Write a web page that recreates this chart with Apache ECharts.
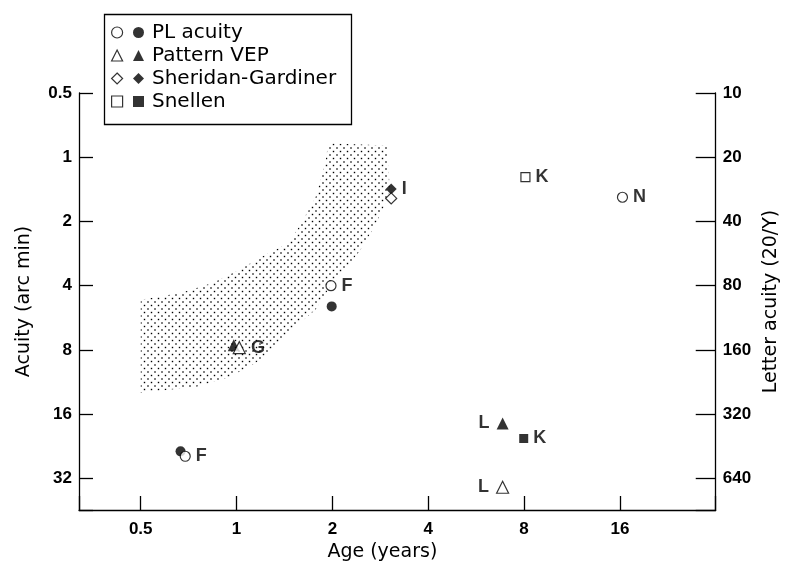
<!DOCTYPE html>
<html><head><meta charset="utf-8">
<script src="https://cdn.jsdelivr.net/npm/echarts@6/dist/echarts.min.js"></script>
<style>html,body{margin:0;padding:0;background:#fff}#c{width:789px;height:567px}</style>
</head><body><div id="c"></div>
<script>
// ---- tick labels ----
const xTicks = [0.5, 1, 2, 4, 8, 16];
const yTicks = [0.5, 1, 2, 4, 8, 16, 32];
const letterTicks = [10, 20, 40, 80, 160, 320, 640];

// ---- series values (age in years, acuity in arc min) ----
const plOpenAge = [0.69, 1.98, 16.3];
const plOpenAcuity = [25.2, 4.0, 1.54];
const plOpenLabels = ['F', 'F', 'N'];
const plFilledAge = [0.667, 1.99];
const plFilledAcuity = [23.9, 5.0];
const plFilledLabels = ['', ''];

const vepOpenAge = [1.02, 6.85];
const vepOpenAcuity = [7.8, 35.2];
const vepOpenLabels = ['G', 'L'];
const vepFilledAge = [0.98, 6.85];
const vepFilledAcuity = [7.6, 17.7];
const vepFilledLabels = ['', 'L'];

const sgOpenAge = [3.06];
const sgOpenAcuity = [1.56];
const sgOpenLabels = [''];
const sgFilledAge = [3.06];
const sgFilledAcuity = [1.41];
const sgFilledLabels = ['I'];

const snOpenAge = [8.08];
const snOpenAcuity = [1.24];
const snOpenLabels = ['K'];
const snFilledAge = [7.98];
const snFilledAcuity = [20.8];
const snFilledLabels = ['K'];

// ---- normative band outline ----
const bandAge = [0.5, 0.67, 0.84, 1.02, 1.2, 1.46, 1.6, 1.77, 1.9, 1.94, 2.97, 3.03, 2.9, 2.71, 2.45, 2.19, 1.94, 1.77, 1.53, 1.33, 1.15, 0.95, 0.75, 0.5];
const bandAcuity = [4.66, 4.32, 3.88, 3.37, 2.93, 2.52, 2.03, 1.54, 1.07, 0.86, 0.88, 1.43, 1.71, 2.12, 2.72, 3.37, 4.18, 5.19, 6.23, 7.73, 9.19, 10.7, 11.9, 12.7];

const FONT = '"Liberation Sans", Arial, Helvetica, sans-serif';
const WIDE = '"DejaVu Sans", "Liberation Sans", Arial, sans-serif';

// stipple pattern
const pc = document.createElement('canvas');
pc.width = 7; pc.height = 7;
const g = pc.getContext('2d');
g.fillStyle = '#000';
g.fillRect(0.3, 0.3, 1.4, 1.4);
g.fillRect(3.8, 3.8, 1.4, 1.4);
const stipple = { image: pc, repeat: 'repeat' };

function near(v, list) {
  for (const t of list) if (Math.abs(Math.log2(v) - Math.log2(t)) < 0.02) return t;
  return null;
}

function pts(ages, acus, labels) {
  return ages.map((a, i) => {
    const lab = labels ? labels[i] : '';
    return {
      value: [a, acus[i]],
      label: { show: !!lab, formatter: lab, position: lab === 'L' ? 'left' : 'right', distance: lab === 'L' ? 7 : 5 }
    };
  });
}

const labelStyle = { fontSize: 18, fontWeight: 'bold', color: '#000', fontFamily: FONT };

function scatter(name, symbol, size, open, data, z) {
  return {
    type: 'scatter', name: name, symbol: symbol, symbolSize: size, z: z,
    itemStyle: open ? { color: '#fff', borderColor: '#000', borderWidth: 1.2 } : { color: '#000', borderWidth: 0 },
    label: Object.assign({ show: true }, labelStyle),
    emphasis: { disabled: true },
    data: data
  };
}

const openNames = ['PL acuity (open)', 'Pattern VEP (open)', 'Sheridan-Gardiner (open)', 'Snellen (open)'];
const filledNames = ['PL acuity', 'Pattern VEP', 'Sheridan-Gardiner', 'Snellen'];

const chart = echarts.init(document.getElementById('c'), null, { renderer: 'canvas' });
chart.setOption({
  animation: false,
  backgroundColor: '#fff',
  textStyle: { fontFamily: FONT },
  grid: { left: 79, right: 67, top: 93, bottom: 57 },
  xAxis: {
    type: 'log', logBase: 2, min: 0.32, max: 32,
    name: 'Age (years)', nameLocation: 'middle', nameGap: 33,
    nameTextStyle: { fontSize: 19, color: '#000', fontFamily: WIDE, padding: [0, 30, 0, 0] },
    axisLine: { lineStyle: { color: '#000', width: 1.3 } },
    axisTick: { inside: true, length: 14, lineStyle: { color: '#000', width: 1.3 } },
    axisLabel: {
      margin: 11, fontSize: 17, fontWeight: 'bold', color: '#000', fontFamily: FONT,
      showMinLabel: true, showMaxLabel: true,
      formatter: v => { const t = near(v, xTicks); return t === null ? '' : String(t); }
    },
    splitLine: { show: false }
  },
  yAxis: [{
    type: 'log', logBase: 2, min: 0.5, max: 45, inverse: true,
    name: 'Acuity (arc min)', nameLocation: 'middle', nameGap: 45, nameRotate: 90,
    nameTextStyle: { fontSize: 19, color: '#000', fontFamily: WIDE },
    axisLine: { lineStyle: { color: '#000', width: 1.3 } },
    axisTick: { inside: true, length: 14, lineStyle: { color: '#000', width: 1.3 } },
    axisLabel: {
      margin: 7, fontSize: 17, fontWeight: 'bold', color: '#000', fontFamily: FONT,
      showMinLabel: true,
      formatter: v => { const t = near(v, yTicks); return t === null ? '' : String(t); }
    },
    splitLine: { show: false }
  }, {
    type: 'log', logBase: 2, min: 0.5, max: 45, inverse: true, position: 'right',
    name: 'Letter acuity (20/Y)', nameLocation: 'middle', nameGap: 45, nameRotate: 90,
    nameTextStyle: { fontSize: 19, color: '#000', fontFamily: WIDE },
    axisLine: { show: true, lineStyle: { color: '#000', width: 1.3 } },
    axisTick: { inside: true, length: 20, lineStyle: { color: '#000', width: 1.3 } },
    axisLabel: {
      margin: 7, fontSize: 17, fontWeight: 'bold', color: '#000', fontFamily: FONT,
      showMinLabel: true,
      formatter: v => { const t = near(v * 20, letterTicks); return t === null ? '' : String(t); }
    },
    splitLine: { show: false }
  }],
  legend: [{
    data: openNames, orient: 'vertical', left: 111, top: 21, padding: 0,
    itemWidth: 11, itemHeight: 11, itemGap: 0, selectedMode: false,
    formatter: () => '\u200b',
    textStyle: { fontSize: 20, lineHeight: 23, color: '#000', fontFamily: WIDE },
    itemStyle: { borderWidth: 1.2, borderColor: '#000', color: '#fff' }
  }, {
    data: filledNames, orient: 'vertical', left: 133, top: 21, padding: 0,
    itemWidth: 11, itemHeight: 11, itemGap: 0, selectedMode: false,
    textStyle: { fontSize: 20, lineHeight: 23, color: '#000', fontFamily: WIDE, padding: [0, 0, 0, 3] },
    itemStyle: { borderWidth: 0 }
  }],
  graphic: [{
    type: 'rect', left: 102, top: 12, z: 100,
    shape: { width: 247, height: 110 },
    style: { fill: 'none', stroke: '#000', lineWidth: 1.3 }
  }],
  series: [
    {
      type: 'custom', name: 'band', z: 1, silent: true,
      data: bandAge.map((a, i) => [a, bandAcuity[i]]),
      encode: { x: 0, y: 1 },
      renderItem: function (params, api) {
        if (params.dataIndex !== 0) return null;
        const points = bandAge.map((a, i) => api.coord([a, bandAcuity[i]]));
        return { type: 'polygon', shape: { points: points }, style: { fill: stipple, stroke: null } };
      }
    },
    scatter('PL acuity', 'circle', 10, false, pts(plFilledAge, plFilledAcuity, plFilledLabels), 3),
    scatter('Pattern VEP', 'triangle', 12, false, pts(vepFilledAge, vepFilledAcuity, vepFilledLabels), 3),
    scatter('Sheridan-Gardiner', 'diamond', 11, false, pts(sgFilledAge, sgFilledAcuity, sgFilledLabels), 3),
    scatter('Snellen', 'rect', 9, false, pts(snFilledAge, snFilledAcuity, snFilledLabels), 3),
    scatter('PL acuity (open)', 'circle', 10, true, pts(plOpenAge, plOpenAcuity, plOpenLabels), 4),
    scatter('Pattern VEP (open)', 'triangle', 12, true, pts(vepOpenAge, vepOpenAcuity, vepOpenLabels), 4),
    scatter('Sheridan-Gardiner (open)', 'diamond', 11, true, pts(sgOpenAge, sgOpenAcuity, sgOpenLabels), 4),
    scatter('Snellen (open)', 'rect', 9, true, pts(snOpenAge, snOpenAcuity, snOpenLabels), 4)
  ]
});
</script>
</body></html>
